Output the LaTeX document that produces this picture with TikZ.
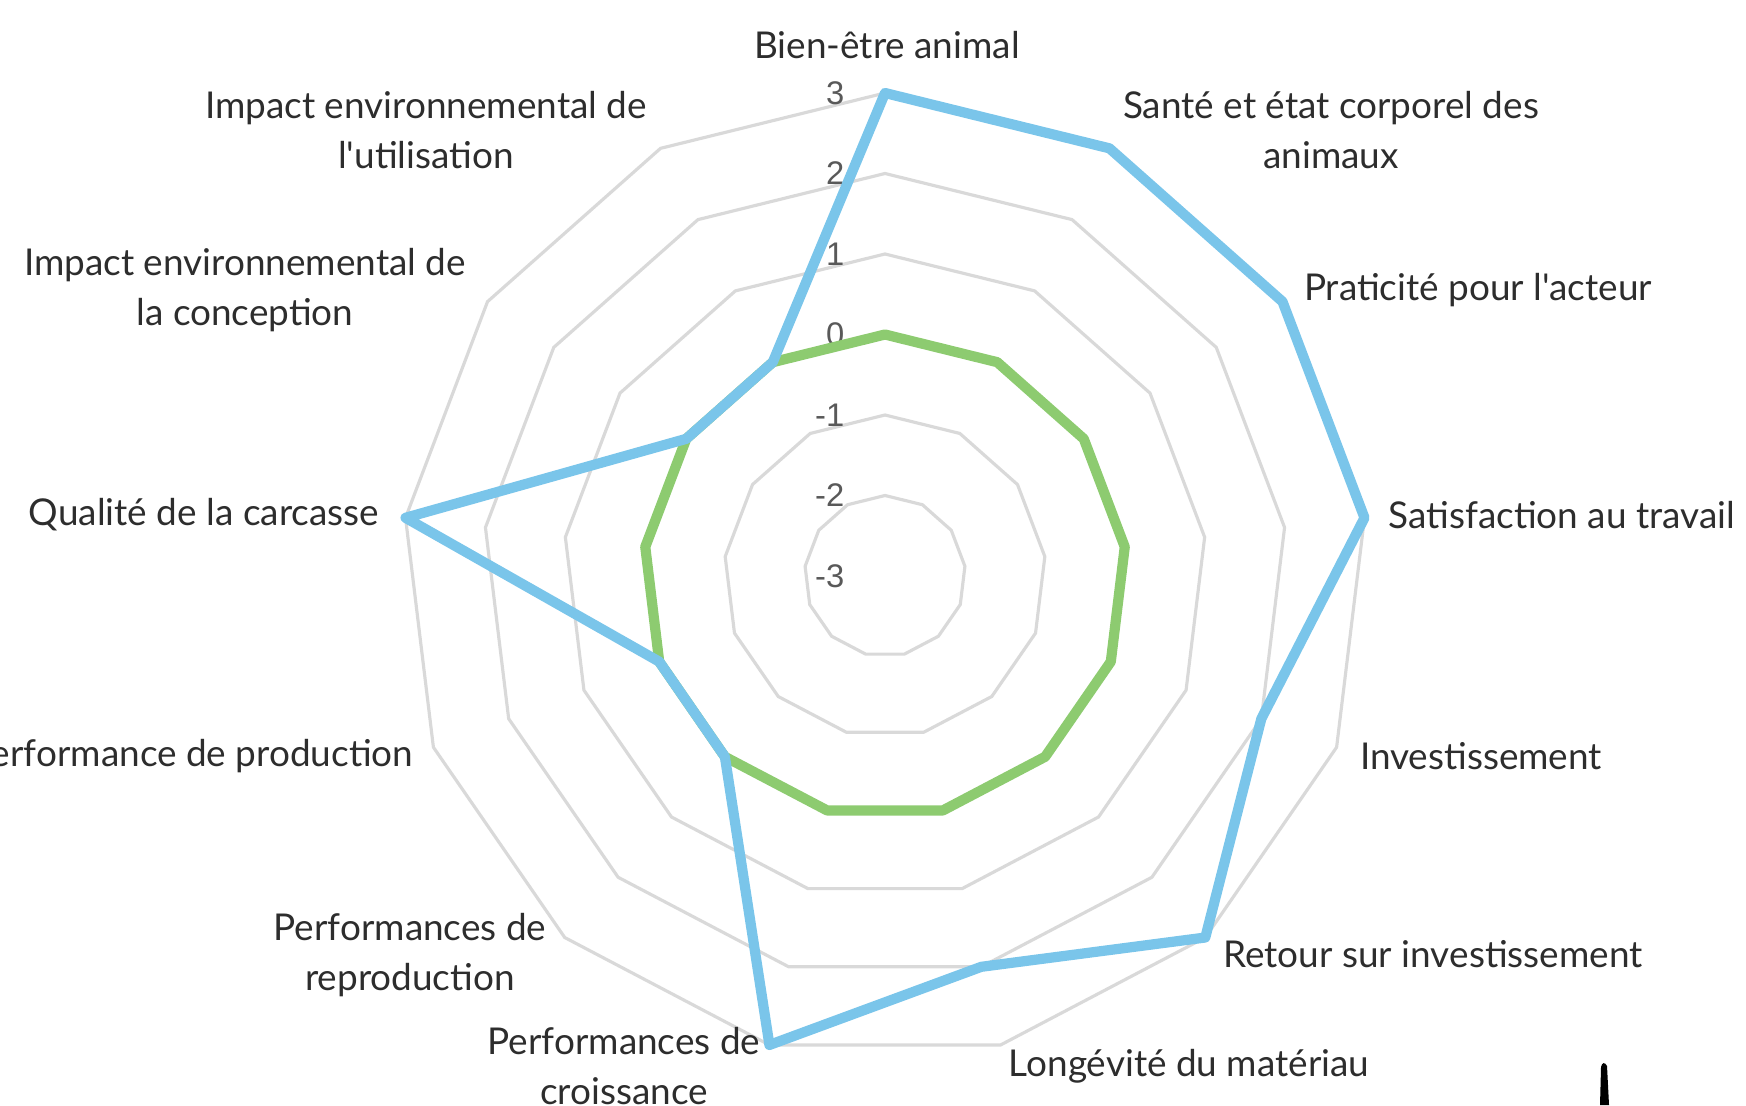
\documentclass[tikz,border=0pt]{standalone}
\usepackage{fontspec}
\setmainfont[Ligatures=TeXOff]{Lato}
\newfontfamily\valuefont{Liberation Sans}
\usepackage{xcolor}
\usetikzlibrary{positioning, calc}

\definecolor{seriesblue}{RGB}{122,197,234}
\definecolor{seriesgreen}{RGB}{141,203,112}
\definecolor{ringgray}{RGB}{217,217,217}
\definecolor{labelgray}{RGB}{45,45,45}
\definecolor{valuegray}{RGB}{89,89,89}

\tikzset{
    catlabel/.style={text=labelgray, align=center, inner sep=0pt,
        font=\fontsize{10.5}{14.2}\selectfont},
    vallabel/.style={text=valuegray, anchor=east, inner sep=0pt,
        font=\valuefont\fontsize{9.3}{10}\selectfont},
    ring/.style={ringgray, line width=0.9pt},
    series/.style={line width=2.9pt, line join=round}
}

\def\radar{%
    \def\naxes{13}
    \def\unit{80.5}

    \coordinate (c) at (885,529);
    % draw rings
    \foreach \v in {-2,...,3}
    {
        \draw[ring] ($(c)+(90:{(\v+3)*\unit})$)
            \foreach \k in {1,...,12}{ -- ($(c)+({90-\k*360/\naxes}:{(\v+3)*\unit})$) } -- cycle;
    }

    % value labels
    \foreach \v in {-3,...,3}
    {
        \node[vallabel] (v\v) at (845,{529+(\v+3)*\unit}) {\v};
    }
}

\begin{document}
\begin{tikzpicture}[x=0.01cm, y=0.01cm]
    \useasboundingbox (0,0) rectangle (1746,1105);
    \radar

    % series points
    \foreach \k/\b/\g in {0/3/0, 1/3/0, 2/3/0, 3/3/0, 4/2/0, 5/3/0, 6/2/0,
                          7/3/0, 8/0/0, 9/0/0, 10/3/0, 11/0/0, 12/0/0}
    {
        \coordinate (b\k) at ($(c)+({90-\k*360/\naxes}:{(\b+3)*\unit})$);
        \coordinate (g\k) at ($(c)+({90-\k*360/\naxes}:{(\g+3)*\unit})$);
    }

    \draw[series, seriesgreen]
        (g0) -- (g1) -- (g2) -- (g3) -- (g4) -- (g5) -- (g6) -- (g7) -- (g8)
        -- (g9) -- (g10) -- (g11) -- (g12) -- cycle;
    \draw[series, seriesblue]
        (b0) -- (b1) -- (b2) -- (b3) -- (b4) -- (b5) -- (b6) -- (b7) -- (b8)
        -- (b9) -- (b10) -- (b11) -- (b12) -- cycle;

    % axis labels
    \node[catlabel] (bien) at (887,1060) {Bien-être animal};
    \node[catlabel] (sante) at (1331,975) {Santé et état corporel des\\animaux};
    \node[catlabel] (prat) at (1478,815) {Praticité pour l'acteur};
    \node[catlabel, anchor=west] (satis) at (1388,590) {Satisfaction au travail};
    \node[catlabel] (invest) at (1481,349) {Investissement};
    \node[catlabel] (retour) at (1433,151) {Retour sur investissement};
    \node[catlabel] (longev) at (1189,39) {Longévité du matériau};
    \node[catlabel] (croiss) at (624,39) {Performances de\\croissance};
    \node[catlabel] (repro) at (410,150) {Performances de\\reproduction};
    \node[catlabel, anchor=east] (prod) at (414,349) {Performance de production};
    \node[catlabel] (qual) at (204,590) {Qualité de la carcasse};
    \node[catlabel] (conc) at (245,815) {Impact environnemental de\\la conception};
    \node[catlabel] (util) at (426,975) {Impact environnemental de\\l'utilisation};

    % stray mark
    \fill[black] (1600,0) -- (1601,38) .. controls (1602,43) and (1605,43) .. (1607,39) -- (1609,0) -- cycle;
\end{tikzpicture}
\end{document}
